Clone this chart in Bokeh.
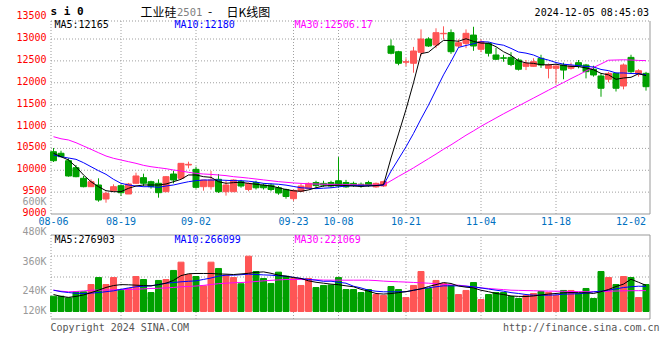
from bokeh.plotting import figure
from bokeh.models import Range1d, ColumnDataSource, Label
from bokeh.embed import file_html
from bokeh.resources import INLINE
from bokeh.core.properties import value

# ---------------- data ----------------
dates = ["08-06", "08-07", "08-08", "08-09",
         "08-12", "08-13", "08-14", "08-15", "08-16",
         "08-19", "08-20", "08-21", "08-22", "08-23",
         "08-26", "08-27", "08-28", "08-29", "08-30",
         "09-02", "09-03", "09-04", "09-05", "09-06",
         "09-09", "09-10", "09-11", "09-12", "09-13",
         "09-18", "09-19", "09-20",
         "09-23", "09-24", "09-25", "09-26", "09-27",
         "09-30",
         "10-08", "10-09", "10-10", "10-11",
         "10-14", "10-15", "10-16", "10-17", "10-18",
         "10-21", "10-22", "10-23", "10-24", "10-25",
         "10-28", "10-29", "10-30", "10-31", "11-01",
         "11-04", "11-05", "11-06", "11-07", "11-08",
         "11-11", "11-12", "11-13", "11-14", "11-15",
         "11-18", "11-19", "11-20", "11-21", "11-22",
         "11-25", "11-26", "11-27", "11-28", "11-29",
         "12-02", "12-03", "12-04"]

opens = [10424, 10388, 10218, 10058, 9816, 9624, 9663, 9343, 9533, 9647,
         9457, 9702, 9831, 9738, 9702, 9510, 9914, 9816, 10120, 10021,
         9624, 9624, 9793, 9510, 9510, 9740, 9560, 9720, 9660, 9660,
         9600, 9560, 9350, 9520, 9580, 9720, 9700, 9720, 9760, 9720,
         9700, 9680, 9720, 9620, 9640, 12840, 12710, 12470, 12445, 12696,
         13000, 12863, 13120, 13145, 12840, 12900, 13090, 12765, 12900, 12635,
         12570, 12580, 12520, 12375, 12375, 12560, 12330, 12330, 12406, 12330,
         12460, 12406, 12308, 12155, 12080, 12215, 11925, 12580, 12200, 12215]
highs = [10509, 10447, 10273, 10120, 9869, 9793, 9816, 9510, 9678, 9678,
         9710, 9944, 9922, 9760, 9793, 9869, 9990, 10166, 10196, 10081,
         9777, 9984, 9914, 9760, 9793, 9780, 9720, 9760, 9700, 9700,
         9640, 9580, 9560, 9700, 9720, 9760, 9760, 9760, 10300, 9780,
         9740, 9720, 9760, 9720, 9760, 12990, 12730, 12560, 12820, 13220,
         13040, 13245, 13290, 13220, 12990, 13220, 13280, 12990, 12920, 12800,
         12640, 12700, 12560, 12520, 12560, 12640, 12440, 12420, 12460, 12460,
         12520, 12430, 12390, 12215, 12250, 12230, 12440, 12640, 12310, 12250]
lows = [10189, 10296, 9853, 9839, 9610, 9624, 9281, 9258, 9510, 9411,
        9457, 9686, 9632, 9580, 9373, 9510, 9700, 9793, 10044, 9580,
        9533, 9557, 9480, 9420, 9510, 9600, 9520, 9560, 9560, 9520,
        9440, 9350, 9300, 9500, 9560, 9600, 9620, 9600, 9600, 9600,
        9620, 9600, 9620, 9600, 9620, 12650, 12400, 12380, 12230, 12620,
        12820, 12790, 12990, 12660, 12800, 12790, 12730, 12700, 12600, 12520,
        12480, 12380, 12280, 12290, 12370, 12340, 12100, 11980, 12080, 12300,
        12330, 12100, 12140, 11680, 12010, 11800, 11850, 12220, 12140, 11820]
closes = [10218, 10310, 9869, 9853, 9624, 9738, 9320, 9473, 9624, 9487,
          9686, 9869, 9702, 9624, 9487, 9853, 9777, 10158, 10136, 9610,
          9777, 9777, 9510, 9663, 9777, 9640, 9700, 9600, 9600, 9560,
          9480, 9400, 9540, 9640, 9700, 9650, 9660, 9640, 9640, 9620,
          9650, 9640, 9660, 9700, 9740, 12674, 12445, 12482, 12726, 13000,
          12840, 13145, 13130, 12710, 12915, 13130, 12840, 12940, 12674, 12537,
          12560, 12420, 12308, 12445, 12482, 12406, 12406, 12383, 12290, 12383,
          12383, 12253, 12178, 11874, 12215, 11874, 12406, 12253, 12275, 11910]

ma5 = [10388, 10310, 10234, 10081, 9892, 9738, 9624, 9533, 9510, 9510,
       9587, 9640, 9663, 9663, 9663, 9686, 9738, 9793, 9892, 9892,
       9853, 9838, 9738, 9702, 9717, 9725, 9700, 9680, 9660, 9640,
       9600, 9560, 9530, 9520, 9550, 9600, 9640, 9650, 9660, 9650,
       9640, 9630, 9640, 9650, 9670, 10280, 10830, 11390, 12000, 12665,
       12699, 12839, 12968, 12965, 12948, 13006, 12945, 12907, 12902, 12824,
       12710, 12626, 12500, 12454, 12443, 12412, 12409, 12424, 12393, 12374,
       12369, 12338, 12297, 12214, 12181, 12079, 12109, 12124, 12205, 12165]
ma10 = [10349, 10310, 10280, 10250, 10173, 10081, 9990, 9907, 9793, 9702,
        9663, 9640, 9624, 9624, 9610, 9640, 9663, 9702, 9738, 9762,
        9777, 9777, 9777, 9770, 9762, 9762, 9750, 9730, 9700, 9690,
        9680, 9660, 9630, 9600, 9590, 9580, 9590, 9600, 9620, 9640,
        9650, 9645, 9645, 9650, 9660, 9979, 10256, 10536, 10841, 11173,
        11489, 11835, 12180, 12485, 12807, 12852, 12892, 12938, 12932, 12886,
        12858, 12786, 12703, 12677, 12634, 12561, 12518, 12462, 12424, 12408,
        12391, 12374, 12361, 12304, 12277, 12224, 12224, 12211, 12209, 12180]
ma30 = [10767, 10720, 10692, 10630, 10554, 10479, 10401, 10326, 10273, 10234,
        10196, 10158, 10112, 10081, 10058, 10036, 10006, 9983, 9953, 9930,
        9914, 9905, 9892, 9877, 9853, 9838, 9820, 9800, 9780, 9760,
        9740, 9725, 9710, 9700, 9690, 9685, 9680, 9678, 9675, 9670,
        9668, 9665, 9662, 9660, 9660, 9760, 9860, 9955, 10055, 10160,
        10265, 10370, 10480, 10580, 10690, 10800, 10900, 11005, 11100, 11195,
        11290, 11380, 11470, 11560, 11650, 11740, 11830, 11920, 12005, 12095,
        12180, 12270, 12350, 12430, 12515, 12520, 12525, 12520, 12510, 12506]

# volume in thousands
volumes = [162, 162, 145, 209, 209, 286, 360, 286, 360, 226,
           244, 371, 339, 201, 329, 339, 435, 523, 392, 371,
           272, 523, 456, 385, 360, 294, 586, 424, 350, 297,
           417, 374, 350, 276, 350, 254, 276, 281, 360, 233,
           233, 201, 233, 180, 170, 265, 233, 148, 276, 424,
           244, 329, 297, 276, 180, 223, 307, 127, 180, 201,
           201, 159, 138, 170, 191, 212, 201, 170, 223, 223,
           191, 244, 138, 424, 360, 286, 371, 360, 148, 286]
vol_ma5 = [180, 160, 150, 160, 175, 200, 226, 255, 275, 285,
           283, 279, 275, 272, 285, 300, 330, 380, 400, 403,
           403, 403, 398, 396, 392, 398, 405, 415, 420, 405,
           385, 374, 360, 350, 325, 310, 300, 290, 284, 272,
           262, 235, 215, 191, 185, 190, 200, 210, 225, 240,
           265, 285, 307, 297, 270, 258, 250, 225, 210, 191,
           180, 165, 160, 159, 165, 175, 185, 191, 198, 201,
           200, 198, 191, 210, 233, 265, 290, 342, 310, 277]
vol_ma10 = [226, 210, 201, 193, 191, 195, 201, 210, 219, 235,
            250, 262, 268, 272, 285, 300, 307, 315, 320, 325,
            340, 355, 375, 385, 385, 390, 396, 392, 388, 385,
            378, 374, 362, 350, 340, 332, 320, 321, 310, 300,
            268, 250, 226, 215, 209, 209, 209, 210, 225, 240,
            251, 262, 272, 272, 272, 268, 262, 250, 238, 226,
            215, 200, 191, 180, 173, 173, 173, 176, 184, 186,
            188, 195, 209, 215, 226, 240, 254, 262, 268, 266]
vol_ma30 = [226, 215, 209, 212, 218, 226, 226, 228, 230, 233,
            233, 236, 240, 244, 246, 250, 255, 262, 265, 270,
            277, 286, 295, 300, 305, 307, 312, 318, 325, 330,
            335, 339, 339, 339, 339, 336, 333, 332, 332, 332,
            332, 332, 332, 328, 322, 318, 315, 312, 308, 304,
            300, 295, 288, 282, 279, 270, 260, 250, 244, 238,
            232, 226, 224, 222, 220, 218, 216, 215, 214, 212,
            211, 210, 209, 211, 214, 217, 219, 220, 221, 221]

price_ticks = [9000, 9500, 10000, 10500, 11000, 11500, 12000, 12500, 13000, 13500]
tick_dates = ["08-06", "08-19", "09-02", "09-23", "10-08", "10-21", "11-04", "11-18", "12-02"]
grid_dates = ["08-19", "09-02", "09-23", "10-08", "10-21", "11-04", "11-18"]
vol_axis_labels = ["600K", "480K", "360K", "240K", "120K"]

symbol = "s i 0"
title_a, title_code, title_b, title_c = "工业硅", "2501", "-", "日K线图"
timestamp = "2024-12-05 08:45:03"
price_ma_text = ["MA5:12165", "MA10:12180", "MA30:12506.17"]
vol_ma_text = ["MA5:276903", "MA10:266099", "MA30:221069"]
footer_left = "Copyright 2024 SINA.COM"
footer_right = "http://finance.sina.com.cn"

# ---------------- layout / styling (pixels) ----------------
W, H = 660, 340
UP, DOWN = "#ff5555", "#00a000"
MONO = "DejaVu Sans Mono"
CJK = "Noto Sans CJK SC"
GRID = "#a0a0a0"
BORDER = "#999999"
LBL_GREY = "#999999"

X_FIRST = 53.0        # pixel centre of first trading day
XS = 7.5              # pixels per trading day
P_BASE_PX, P_BASE = 213.5, 9000     # price 9000 sits on this pixel row
PPX = 500 / 21.875                  # price units per pixel
V_BASE_PX = 311.0                   # zero volume pixel row
VPX = 10.6                          # thousand lots per pixel

MAIN = dict(l=50.5, t=20.5, r=649.5, b=213.5)
VOL = dict(l=50.5, t=234.5, r=649.5, b=318.5)

def xd(px):
    return (px - X_FIRST) / XS

def yd(py):
    return P_BASE + (P_BASE_PX - py) * PPX

def vd(py):
    return (V_BASE_PX - py) * VPX

p = figure(width=W, height=H, x_range=Range1d(xd(0), xd(W)),
           y_range=Range1d(yd(H), yd(0)),
           output_backend="svg", toolbar_location=None,
           x_axis_location=None, y_axis_location=None,
           min_border=0, outline_line_color=None,
           background_fill_color="white", border_fill_color="white")
p.extra_y_ranges = {"vol": Range1d(vd(H), vd(0))}
p.xgrid.visible = False
p.ygrid.visible = False

n = len(dates)
idx = list(range(n))
colors = [UP if c >= o else DOWN for o, c in zip(opens, closes)]
src = ColumnDataSource(dict(
    x=idx, h=highs, l=lows,
    top=[max(o, c) for o, c in zip(opens, closes)],
    bot=[min(o, c) for o, c in zip(opens, closes)],
    color=colors, vol=volumes,
    ma5=ma5, ma10=ma10, ma30=ma30,
    vma5=vol_ma5, vma10=vol_ma10, vma30=vol_ma30,
))

# ---- grids (dotted) ----
grid_idx = [dates.index(d) for d in grid_dates]
inner_ticks = [t for t in price_ticks if yd(MAIN["b"]) < t < yd(MAIN["t"])]
p.segment(x0=xd(MAIN["l"]), x1=xd(MAIN["r"]), y0=inner_ticks, y1=inner_ticks,
          line_color=GRID, line_dash="1 2", line_width=1)
p.segment(x0=grid_idx, x1=grid_idx, y0=yd(MAIN["b"]), y1=yd(MAIN["t"]),
          line_color=GRID, line_dash="1 2", line_width=1)
vol_grid = [vd(VOL["t"] + k * (VOL["b"] - VOL["t"]) / 4) for k in (1, 2, 3)]
p.segment(x0=xd(VOL["l"]), x1=xd(VOL["r"]), y0=vol_grid, y1=vol_grid,
          y_range_name="vol", line_color=GRID, line_dash="1 2", line_width=1)
p.segment(x0=grid_idx, x1=grid_idx, y0=vd(VOL["b"]), y1=vd(VOL["t"]),
          y_range_name="vol", line_color=GRID, line_dash="1 2", line_width=1)

# ---- panel borders ----
def box(b, yfun, rng, dotted_sides):
    sides = {
        "t": (xd(b["l"]), yfun(b["t"]), xd(b["r"]), yfun(b["t"])),
        "b": (xd(b["l"]), yfun(b["b"]), xd(b["r"]), yfun(b["b"])),
        "l": (xd(b["l"]), yfun(b["t"]), xd(b["l"]), yfun(b["b"])),
        "r": (xd(b["r"]), yfun(b["t"]), xd(b["r"]), yfun(b["b"])),
    }
    for k, (x0, y0, x1, y1) in sides.items():
        kw = dict(line_color=BORDER, line_width=1)
        if k in dotted_sides:
            kw["line_dash"] = "1 2"
        if rng:
            kw["y_range_name"] = rng
        p.segment(x0=[x0], y0=[y0], x1=[x1], y1=[y1], **kw)

box(MAIN, yd, None, ("t", "l"))
box(VOL, vd, "vol", ("l",))

# ---- candles ----
p.segment(x0="x", y0="h", x1="x", y1="l", line_color="color", line_width=1, source=src)
p.vbar(x="x", top="top", bottom="bot", width=0.8, fill_color="color",
       line_color="color", line_width=1, source=src)
p.line("x", "ma30", line_color="#ff00ff", line_width=1, source=src)
p.line("x", "ma10", line_color="#0000ff", line_width=1, source=src)
p.line("x", "ma5", line_color="#000000", line_width=1, source=src)

# ---- volume ----
p.vbar(x="x", top="vol", bottom=0, width=0.8, fill_color="color",
       line_color="color", line_width=1, source=src, y_range_name="vol")
p.line("x", "vma30", line_color="#ff00ff", line_width=1, source=src, y_range_name="vol")
p.line("x", "vma10", line_color="#0000ff", line_width=1, source=src, y_range_name="vol")
p.line("x", "vma5", line_color="#000000", line_width=1, source=src, y_range_name="vol")

# ---- axis texts ----
p.text(x=[xd(46)] * len(price_ticks), y=price_ticks, text=[str(t) for t in price_ticks],
       text_color="#ff0000", text_font=value(MONO), text_font_size="10px",
       text_align="right", text_baseline="middle", y_offset=-2)
tick_idx = [dates.index(d) for d in tick_dates]
p.text(x=tick_idx, y=[yd(220.5)] * len(tick_idx), text=tick_dates,
       text_color="#0070c0", text_font=value(MONO), text_font_size="10px",
       text_align="center", text_baseline="middle")
vol_label_rows = [201, 231, 261, 290, 310]
p.text(x=[xd(46)] * len(vol_axis_labels), y=[yd(r) for r in vol_label_rows],
       text=vol_axis_labels, text_color=LBL_GREY, text_font=value(MONO),
       text_font_size="10px", text_align="right", text_baseline="middle")

def add_label(x, y, text, color="#000000", size="10px", font=MONO,
              align="left", style="normal"):
    p.add_layout(Label(x=x, y=y, text=text, text_color=color,
                       text_font=font, text_font_size=size,
                       text_font_style=style, text_align=align,
                       text_baseline="middle"))

add_label(xd(50), yd(11), symbol, size="11px", style="bold")
add_label(xd(140), yd(10.5), title_a, size="12px", font=CJK)
add_label(xd(176.5), yd(11), title_code, color="#808080", size="10.5px")
add_label(xd(207.5), yd(10.5), title_b, size="12px", font=CJK)
add_label(xd(226), yd(10.5), title_c, size="12px", font=CJK)
add_label(xd(648.5), yd(12), timestamp, align="right")

ma_cols = ["#000000", "#0000ff", "#ff00ff"]
ma_x = [54, 174, 294]
for t, c, x in zip(price_ma_text, ma_cols, ma_x):
    add_label(xd(x), yd(24), t, color=c)
for t, c, x in zip(vol_ma_text, ma_cols, ma_x):
    add_label(xd(x), yd(238.5), t, color=c)

add_label(xd(50), yd(326.5), footer_left, color="#555555")
add_label(xd(659), yd(326.5), footer_right, color="#555555", align="right")

open("out.html", "w").write(file_html(p, INLINE))
